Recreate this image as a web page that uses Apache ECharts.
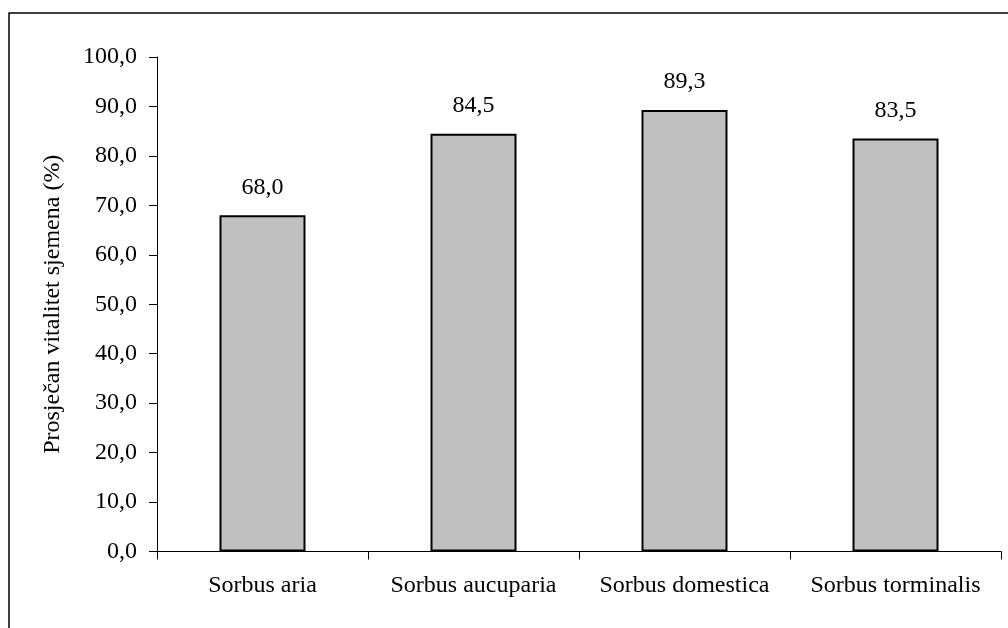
<!DOCTYPE html>
<html>
<head>
<meta charset="utf-8">
<script src="https://cdn.jsdelivr.net/npm/echarts@6/dist/echarts.min.js"></script>
<style>
html,body{margin:0;padding:0;background:#fff;}
#chart{width:1008px;height:628px;}
</style>
</head>
<body>
<div id="chart"></div>
<script>
var categories = ['Sorbus aria', 'Sorbus aucuparia', 'Sorbus domestica', 'Sorbus torminalis'];
var values = [68.0, 84.5, 89.3, 83.5];
var yAxisTitle = 'Prosječan vitalitet sjemena (%)';

var FONT = '"Liberation Serif", "Times New Roman", serif';
var chart = echarts.init(document.getElementById('chart'));
chart.setOption({
  animation: false,
  backgroundColor: '#fff',
  graphic: [{
    type: 'rect',
    shape: { x: 9, y: 13, width: 1020, height: 640 },
    style: { fill: 'none', stroke: '#000', lineWidth: 1.5 },
    silent: true
  }],
  grid: { left: 157, top: 57, right: 7, bottom: 76.5, containLabel: false },
  xAxis: {
    type: 'category',
    data: categories,
    axisLine: { lineStyle: { color: '#000', width: 1 } },
    axisTick: { show: true, interval: 0, length: 8, lineStyle: { color: '#000' } },
    axisLabel: { interval: 0, color: '#000', fontFamily: FONT, fontSize: 24, margin: 22 },
    splitLine: { show: false }
  },
  yAxis: {
    type: 'value',
    min: 0, max: 100, interval: 10,
    name: yAxisTitle,
    nameLocation: 'middle',
    nameGap: 92,
    nameTextStyle: { color: '#000', fontFamily: FONT, fontSize: 24 },
    axisLine: { show: true, lineStyle: { color: '#000', width: 1 } },
    axisTick: { show: true, length: 8, lineStyle: { color: '#000' } },
    axisLabel: {
      color: '#000', fontFamily: FONT, fontSize: 24, margin: 20,
      formatter: function (v) { return v.toFixed(1).replace('.', ','); }
    },
    splitLine: { show: false }
  },
  series: [{
    type: 'bar',
    data: values,
    barWidth: 86,
    itemStyle: { color: '#C0C0C0', borderColor: '#000', borderWidth: 2 },
    label: {
      show: true, position: 'top', distance: 16,
      color: '#000', fontFamily: FONT, fontSize: 24,
      formatter: function (p) { return p.value.toFixed(1).replace('.', ','); }
    }
  }]
});
</script>
</body>
</html>
